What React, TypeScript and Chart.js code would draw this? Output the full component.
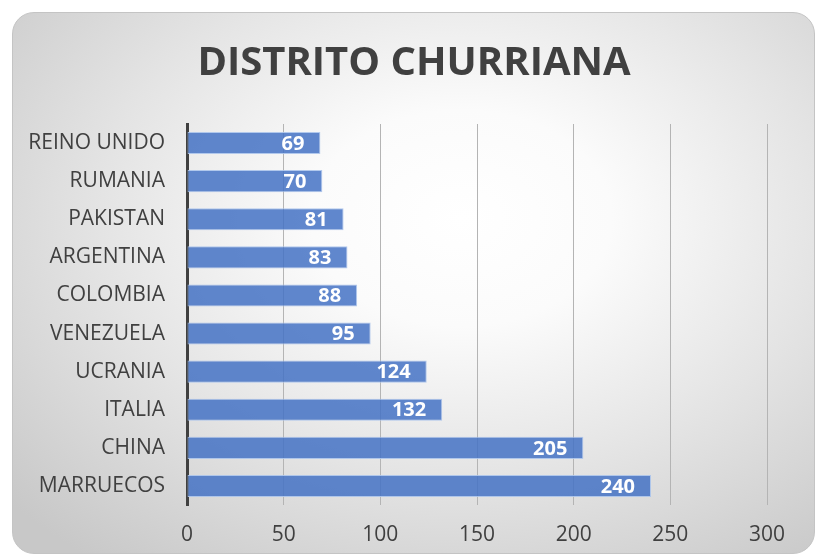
import React, { useEffect, useRef } from "react";
import { Chart, registerables } from "chart.js";

Chart.register(...registerables);

const TITLE = "DISTRITO CHURRIANA";
const categories = [
  "REINO UNIDO",
  "RUMANIA",
  "PAKISTAN",
  "ARGENTINA",
  "COLOMBIA",
  "VENEZUELA",
  "UCRANIA",
  "ITALIA",
  "CHINA",
  "MARRUECOS",
];
const values = [69, 70, 81, 83, 88, 95, 124, 132, 205, 240];
const xMin = 0;
const xMax = 300;
const xStep = 50;

const FONT = "'Open Sans', 'DejaVu Sans', sans-serif";
const TEXT = "#404040";

const labelPlugin = {
  id: "barLabels",
  afterDatasetsDraw(chart: any) {
    const ctx = chart.ctx;
    const meta = chart.getDatasetMeta(0);
    ctx.save();
    ctx.font = `bold 20px ${FONT}`;
    ctx.fillStyle = "#ffffff";
    ctx.textAlign = "right";
    ctx.textBaseline = "middle";
    meta.data.forEach((el: any, i: number) => {
      ctx.fillText(String(values[i]), el.x - 16, el.y + 1);
    });
    ctx.restore();
  },
};

const titlePlugin = {
  id: "customTitle",
  afterDraw(chart: any) {
    const ctx = chart.ctx;
    ctx.save();
    ctx.font = `bold 40px ${FONT}`;
    ctx.fillStyle = TEXT;
    ctx.textAlign = "center";
    ctx.textBaseline = "middle";
    ctx.fillText(TITLE, 414, 64);
    ctx.restore();
  },
};

export default function App() {
  const ref = useRef<HTMLCanvasElement | null>(null);

  useEffect(() => {
    if (!ref.current) return;
    const chart = new Chart(ref.current, {
      type: "bar",
      data: {
        labels: categories,
        datasets: [
          {
            data: values,
            backgroundColor: "rgba(68,114,196,0.85)",
            borderColor: "rgba(170,195,235,0.9)",
            borderWidth: 1,
            borderSkipped: false,
            barPercentage: 0.58,
            categoryPercentage: 1,
          },
        ],
      },
      plugins: [labelPlugin, titlePlugin],
      options: {
        indexAxis: "y",
        responsive: false,
        animation: false,
        layout: { padding: { top: 124, right: 52, bottom: 0, left: 0 } },
        plugins: {
          legend: { display: false },
          title: { display: false },
          tooltip: { enabled: false },
        },
        scales: {
          x: {
            min: xMin,
            max: xMax,
            ticks: {
              stepSize: xStep,
              color: TEXT,
              font: { family: FONT, size: 21 },
              padding: 17,
            },
            grid: {
              drawTicks: false,
              color: (c: any) => (c.tick && c.tick.value === 0 ? "rgba(0,0,0,0)" : "#b4b4b4"),
              lineWidth: 1,
            },
            border: { display: false },
            afterFit: (s: any) => {
              s.height = 54;
            },
          },
          y: {
            ticks: {
              color: TEXT,
              font: { family: FONT, size: 21 },
              padding: 22,
            },
            grid: { display: false, drawTicks: false },
            border: { display: true, color: TEXT, width: 3 },
            afterFit: (s: any) => {
              s.width = 187;
            },
          },
        },
      },
    });
    return () => chart.destroy();
  }, []);

  return (
    <div style={{ position: "fixed", left: 0, top: 0, width: 819, height: 559, background: "#ffffff" }}>
      <div
        style={{
          position: "absolute",
          left: 12,
          top: 12,
          width: 801,
          height: 540,
          borderRadius: 22,
          border: "1px solid #c4c4c4",
          background:
            "radial-gradient(ellipse 75% 80% at 56% 38%, #ffffff 0%, #fbfbfb 25%, #e4e4e4 60%, #c8c8c8 100%)",
        }}
      />
      <canvas
        ref={ref}
        width={819}
        height={559}
        style={{ position: "absolute", left: 0, top: 0, width: 819, height: 559 }}
      />
    </div>
  );
}
